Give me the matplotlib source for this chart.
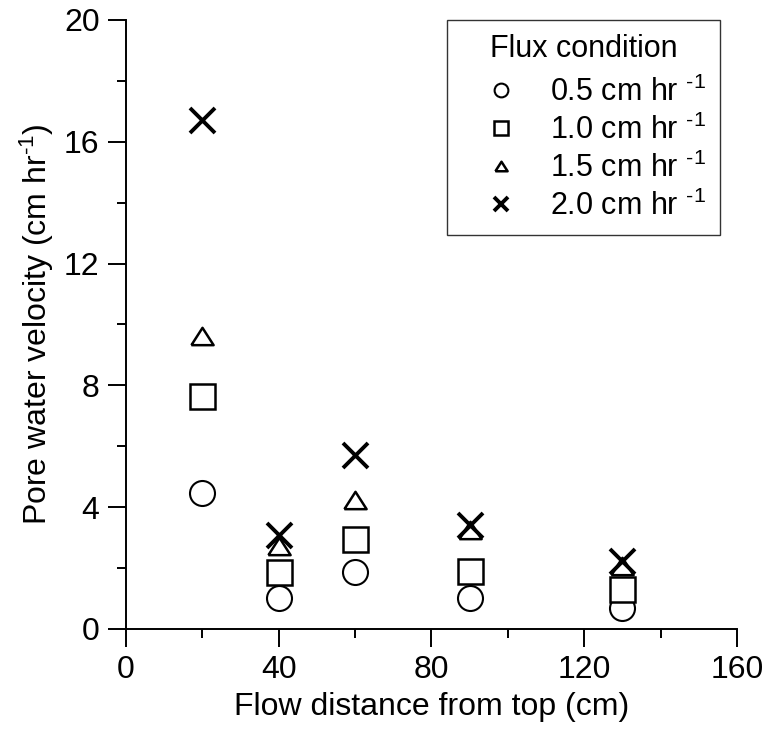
import matplotlib
matplotlib.use("Agg")
import matplotlib.pyplot as plt
from matplotlib.ticker import MultipleLocator

plt.rcParams['font.family'] = ['Liberation Sans', 'DejaVu Sans']
plt.rcParams['mathtext.fontset'] = 'custom'
plt.rcParams['mathtext.rm'] = 'Liberation Sans'
plt.rcParams['mathtext.it'] = 'Liberation Sans'
plt.rcParams['mathtext.default'] = 'regular'

distance = [20, 40, 60, 90, 130]
v_05 = [4.45, 1.02, 1.87, 1.02, 0.70]
v_10 = [7.65, 1.87, 2.96, 1.90, 1.30]
v_15 = [9.62, 2.72, 4.24, 3.25, 2.07]
v_20 = [16.7, 3.09, 5.71, 3.40, 2.22]
labels = [r'0.5 cm hr $^{\text{-1}}$', r'1.0 cm hr $^{\text{-1}}$',
          r'1.5 cm hr $^{\text{-1}}$', r'2.0 cm hr $^{\text{-1}}$']

tri = [(-1, -0.78), (1, -0.78), (0, 0.78), (-1, -0.78)]

fig = plt.figure(figsize=(7.63, 7.39), dpi=100)
ax = fig.add_axes([0.165, 0.149, 0.801, 0.824])

fs = 23
lfs = 22
ax.plot(distance, v_05, linestyle='none', marker='o', ms=18, mfc='white', mec='black', mew=1.5, label=labels[0])
ax.plot(distance, v_10, linestyle='none', marker='s', ms=18, mfc='white', mec='black', mew=1.8, label=labels[1])
ax.plot(distance, v_15, linestyle='none', marker=tri, ms=16, mfc='none', mec='black', mew=1.8, label=labels[2])
ax.plot(distance, v_20, linestyle='none', marker='x', ms=18, mec='black', mew=2.8, label=labels[3])

ax.set_xlim(0, 160)
ax.set_ylim(0, 20)
ax.xaxis.set_major_locator(MultipleLocator(40))
ax.xaxis.set_minor_locator(MultipleLocator(20))
ax.yaxis.set_major_locator(MultipleLocator(4))
ax.yaxis.set_minor_locator(MultipleLocator(2))

for s in ['top', 'right']:
    ax.spines[s].set_visible(False)
for s in ['left', 'bottom']:
    ax.spines[s].set_linewidth(1.4)

ax.tick_params(which='major', direction='out', length=13, width=1.4, labelsize=fs, pad=6)
ax.tick_params(which='minor', direction='out', length=6.5, width=1.4)

ax.set_xlabel('Flow distance from top (cm)', fontsize=fs, labelpad=5)
ax.set_ylabel(r'Pore water velocity (cm hr$^{\text{-1}}$)', fontsize=fs, labelpad=6)

leg = ax.legend(loc='upper right', bbox_to_anchor=(0.972, 1.0), borderaxespad=0,
                title='Flux condition',
                fontsize=lfs, title_fontsize=lfs, markerscale=0.55, frameon=True,
                fancybox=False, edgecolor='black', labelspacing=0.22,
                handletextpad=0.33, borderpad=0.45, handlelength=2.6)
leg.get_frame().set_linewidth(1.0)
leg._legend_box.sep = 9.0

fig.savefig('out.png', dpi=100)
